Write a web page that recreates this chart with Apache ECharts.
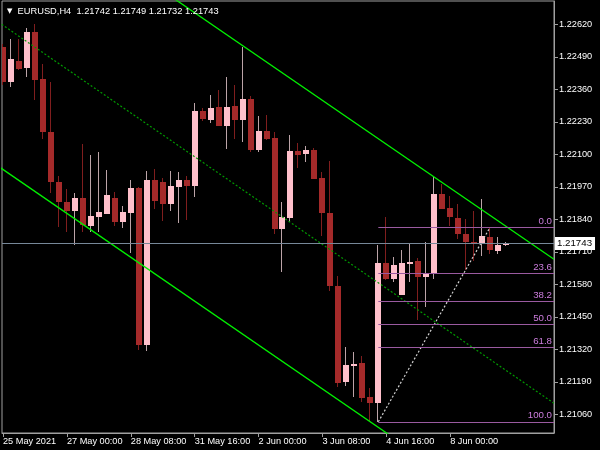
<!DOCTYPE html>
<html>
<head>
<meta charset="utf-8">
<script src="https://cdn.jsdelivr.net/npm/echarts@6/dist/echarts.min.js"></script>
<style>html,body{margin:0;padding:0;background:#000;}#c{width:600px;height:450px;}</style>
</head>
<body>
<div id="c"></div>
<script>
// ---- data (EURUSD H4) ----
const opens = [1.22530,1.22388,1.22472,1.22444,1.22589,1.22400,1.22189,1.21989,1.21910,1.21873,
1.21925,1.21814,1.21850,1.21862,1.21926,1.21830,1.21866,1.21965,1.21337,1.21997,
1.21989,1.21902,1.21968,1.21997,1.21974,1.22273,1.22236,1.22289,1.22214,1.22292,
1.22237,1.22321,1.22117,1.22194,1.22164,1.21801,1.21846,1.22114,1.22102,1.22118,
1.22005,1.21865,1.21573,1.21189,1.21254,1.21264,1.21128,1.21106,1.21666,1.21602,
1.21538,1.21662,1.21672,1.21608,1.21622,1.21941,1.21884,1.21845,1.21781,1.21750,
1.21744,1.21769,1.21714,1.21742];
const closes = [1.22388,1.22481,1.22441,1.22589,1.22397,1.22190,1.21988,1.21910,1.21873,1.21925,
1.21816,1.21852,1.21868,1.21937,1.21830,1.21868,1.21964,1.21337,1.21996,1.21912,
1.21902,1.21972,1.21997,1.21974,1.22273,1.22240,1.22286,1.22214,1.22289,1.22237,
1.22321,1.22117,1.22194,1.22160,1.21800,1.21849,1.22112,1.22097,1.22117,1.22002,
1.21865,1.21573,1.21186,1.21258,1.21262,1.21124,1.21106,1.21666,1.21600,1.21657,
1.21664,1.21669,1.21608,1.21622,1.21941,1.21882,1.21848,1.21782,1.21750,1.21746,
1.21772,1.21717,1.21738,1.21743];
const highs = [1.22541,1.22561,1.22561,1.22604,1.22621,1.22461,1.22388,1.22013,1.21960,1.21945,
1.22141,1.22097,1.22108,1.22037,1.21950,1.21893,1.21997,1.21970,1.22033,1.22040,
1.22005,1.22034,1.22028,1.22013,1.22306,1.22286,1.22337,1.22357,1.22408,1.22377,
1.22530,1.22333,1.22253,1.22257,1.22190,1.21909,1.22176,1.22145,1.22133,1.22125,
1.22030,1.22073,1.21613,1.21328,1.21309,1.21293,1.21166,1.21737,1.21850,1.21690,
1.21717,1.21746,1.21685,1.21748,1.22008,1.21981,1.21933,1.21901,1.21842,1.21873,
1.21920,1.21808,1.21768,1.21749];
const lows = [1.22377,1.22370,1.22437,1.22410,1.22317,1.22160,1.21946,1.21808,1.21788,1.21737,
1.21788,1.21788,1.21788,1.21861,1.21814,1.21804,1.21704,1.21317,1.21314,1.21880,
1.21834,1.21874,1.21824,1.21837,1.21928,1.22234,1.22226,1.22213,1.22122,1.22160,
1.22149,1.22108,1.22110,1.22157,1.21781,1.21630,1.21828,1.22046,1.22070,1.22000,
1.21774,1.21554,1.21168,1.21174,1.21130,1.21110,1.21034,1.21030,1.21597,1.21590,
1.21536,1.21588,1.21437,1.21490,1.21602,1.21880,1.21814,1.21762,1.21637,1.21673,
1.21694,1.21700,1.21700,1.21732];

const xTickIndex = [0, 8, 16, 24, 32, 40, 48, 56];
const xTickLabels = ['25 May 2021','27 May 00:00','28 May 08:00','31 May 16:00','2 Jun 00:00','3 Jun 08:00','4 Jun 16:00','8 Jun 00:00'];
const yTicks = [1.21060,1.21190,1.21320,1.21450,1.21580,1.21710,1.21840,1.21970,1.22100,1.22230,1.22360,1.22490,1.22620];

const upperChannel = [[20, 1.22754], [69, 1.21680]];
const middleChannel = [[-1, 1.22638], [69, 1.21104]];
const lowerChannel = [[-1, 1.22061], [50, 1.20942]];

const fibTrend = [[47, 1.21030], [61, 1.21808]];
const fibLevels = ['0.0', '23.6', '38.2', '50.0', '61.8', '100.0'];
const fibPrices = [1.21808, 1.21624, 1.21511, 1.21419, 1.21327, 1.21030];
const fibStart = 47;

const symbolTitle = 'EURUSD,H4  1.21742 1.21749 1.21732 1.21743';
const bidPrice = 1.21743;

// ---- chart ----
const FONT = "'Liberation Sans', Arial, sans-serif";
const FS = 9.2;
const X_MIN = -0.125, X_MAX = 69;
const candleData = opens.map((o, i) => [i, o, closes[i], lows[i], highs[i]]);

function renderCandle(params, api) {
  const k = api.value(0), o = api.value(1), c = api.value(2), l = api.value(3), h = api.value(4);
  const pO = api.coord([k, o]), pC = api.coord([k, c]), pL = api.coord([k, l]), pH = api.coord([k, h]);
  const bull = c >= o;
  const cx = Math.round(pO[0]);
  let top = Math.round(Math.min(pO[1], pC[1])), bot = Math.round(Math.max(pO[1], pC[1]));
  if (bot - top < 1) bot = top + 1;
  return {
    type: 'group',
    children: [
      { type: 'line', shape: { x1: cx - 0.5, y1: Math.round(pH[1]), x2: cx - 0.5, y2: Math.round(pL[1]) },
        style: { stroke: bull ? '#bca4a8' : '#801e1e', lineWidth: 1 } },
      { type: 'rect', shape: { x: cx - 3, y: top, width: 6, height: bot - top },
        style: { fill: bull ? '#ffc0cb' : '#a52a2a' } }
    ]
  };
}

const fibMarks = fibPrices.map((p, i) => [
  { coord: [fibStart, p], label: { formatter: fibLevels[i] } },
  { coord: [X_MAX, p] }
]);

const chart = echarts.init(document.getElementById('c'), null, { renderer: 'canvas' });
chart.setOption({
  backgroundColor: '#000000',
  animation: false,
  title: {
    text: '{tri|▼}  ' + symbolTitle,
    left: 2, top: 2,
    textStyle: {
      color: '#ffffff', fontSize: FS + 0.1, fontWeight: 'normal', fontFamily: FONT,
      rich: { tri: { fontSize: 7, color: '#ffffff', fontFamily: 'DejaVu Sans' } }
    }
  },
  grid: { left: 1, top: 1, right: 46, bottom: 17, show: true, borderColor: '#a0a0a0', borderWidth: 1, backgroundColor: 'transparent' },
  xAxis: {
    type: 'value', min: X_MIN, max: X_MAX,
    splitLine: { show: false },
    axisLine: { show: true, onZero: false, lineStyle: { color: '#a0a0a0' } },
    axisTick: { show: true, length: 4, customValues: xTickIndex, lineStyle: { color: '#a0a0a0' } },
    axisLabel: {
      customValues: xTickIndex, color: '#ffffff', fontSize: FS, fontFamily: FONT, align: 'left', margin: 4,
      hideOverlap: false,
      formatter: v => xTickLabels[xTickIndex.indexOf(Math.round(v))]
    }
  },
  yAxis: {
    type: 'value', position: 'right', min: 1.209852, max: 1.227132,
    splitLine: { show: false },
    axisLine: { show: true, onZero: false, lineStyle: { color: '#a0a0a0' } },
    axisTick: { show: true, length: 4, customValues: yTicks, lineStyle: { color: '#a0a0a0' } },
    axisLabel: {
      customValues: yTicks, color: '#ffffff', fontSize: FS, fontFamily: FONT, margin: 5,
      formatter: v => v.toFixed(5)
    }
  },
  series: [
    {
      type: 'line', data: [], silent: true, z: 1,
      markLine: {
        silent: true, symbol: 'none',
        lineStyle: { color: '#9a5aa0', type: 'solid', width: 1 },
        label: { position: 'insideEndTop', color: '#cc7ddd', fontSize: FS + 0.5, fontFamily: FONT, distance: [2, 1] },
        data: fibMarks
      }
    },
    {
      type: 'line', data: [], silent: true, z: 1,
      markLine: {
        silent: true, symbol: 'none',
        lineStyle: { color: '#778899', type: 'solid', width: 1 },
        label: { position: 'end', formatter: bidPrice.toFixed(5), color: '#000', backgroundColor: '#fff', padding: [2, 3, 1, 2], fontSize: FS + 0.5, fontFamily: FONT, distance: 1 },
        data: [[{ coord: [X_MIN, bidPrice] }, { coord: [X_MAX, bidPrice] }]]
      }
    },
    { type: 'custom', renderItem: renderCandle, data: candleData, encode: { x: 0, y: [1, 2, 3, 4] }, clip: true, z: 3 },
    { type: 'line', data: upperChannel, symbol: 'none', clip: true, z: 4, lineStyle: { color: '#00f000', width: 1.3 } },
    { type: 'line', data: lowerChannel, symbol: 'none', clip: true, z: 4, lineStyle: { color: '#00f000', width: 1.3 } },
    { type: 'line', data: middleChannel, symbol: 'none', clip: true, z: 4, lineStyle: { color: '#009a00', width: 1.2, type: [2, 2] } },
    { type: 'line', data: fibTrend, symbol: 'none', clip: true, z: 4, lineStyle: { color: '#d0d0d0', width: 1.2, type: [2, 2] } }
  ]
});
</script>
</body>
</html>
